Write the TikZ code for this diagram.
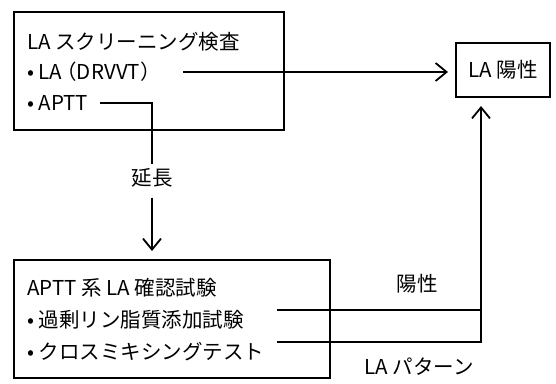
\documentclass[tikz,border=0pt]{standalone}
\usepackage{fontspec}
\setmainfont{Noto Sans CJK JP}
\usetikzlibrary{arrows.meta}
\begin{document}
\begin{tikzpicture}[x=1pt,y=-1pt,
  box/.style={draw,line width=2pt,inner sep=0pt},
  txt/.style={inner sep=0pt,anchor=west,font=\fontsize{20.5}{23}\selectfont},
  conn/.style={line width=2pt},
  arr/.style={line width=2pt,-{Straight Barb[length=11pt,width=18pt,line width=1.8pt]}}]
\useasboundingbox (0,0) rectangle (556,383);
% box 1
\node[box,minimum width=270pt,minimum height=118pt,anchor=north west] (b1) at (13,11) {};
\node[txt] (t1) at (27,42) {LA スクリーニング検査};
\node[txt] (t2) at (27,72) {• LA\kern-6pt（DRVVT）};
\node[txt] (t3) at (27,103) {• APTT};
% LA positive box
\node[box,minimum width=94pt,minimum height=54pt,anchor=north west] (pos) at (455,42) {};
\node[txt,anchor=center] (post) at (pos.center) {LA 陽性};
% box 2
\node[box,minimum width=316pt,minimum height=118pt,anchor=north west] (b2) at (13,259) {};
\node[txt] (u1) at (27,288) {APTT 系 LA 確認試験};
\node[txt] (u2) at (27,320) {• 過剰リン脂質添加試験};
\node[txt] (u3) at (27,352) {• クロスミキシングテスト};
% labels
\node[txt,anchor=center] (ext) at (152,178) {延長};
\node[txt,anchor=center] (yp) at (417,284) {陽性};
\node[txt,anchor=center] (lap) at (419,367) {LA パターン};
% coordinates
\coordinate (c1s) at (183,72);
\coordinate (c3s) at (100,103);
\coordinate (c3c) at (152,103);
\coordinate (c2end) at (448,72);
\coordinate (d2s) at (277,310);
\coordinate (d3s) at (277,342);
\coordinate (d2e) at (481,310);
\coordinate (d3e) at (481,342);
\coordinate (upend) at (481,106);
\coordinate (downend) at (152,251);
% connectors
\draw[arr] (c1s) -- (c2end);
\draw[conn] (c3s) -- (c3c) -- ([yshift=4pt]ext.north);
\draw[arr] ([yshift=-10pt]ext.south) -- (downend);
\draw[conn] (d2s) -- (d2e);
\draw[arr] (d3s) -- (d3e) -- (upend);
\end{tikzpicture}
\end{document}
